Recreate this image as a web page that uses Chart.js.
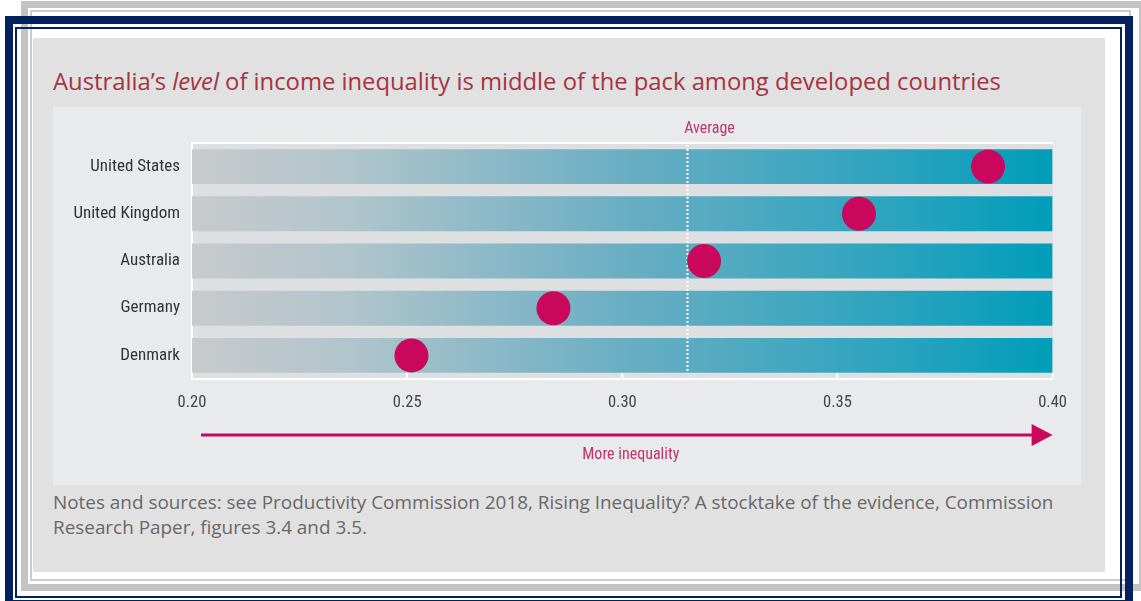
<!DOCTYPE html>
<html>
<head>
<meta charset="utf-8">
<script src="https://cdn.jsdelivr.net/npm/chart.js@4.4.0/dist/chart.umd.min.js"></script>
<style>
  body { margin: 0; background: #fff; width: 1141px; height: 601px; overflow: hidden; position: relative; font-family: "Open Sans", sans-serif; }
  .box { position: absolute; box-sizing: border-box; }
  #greyOuter { left: 21px; top: 1px; width: 1125px; height: 590px; border: 7px solid #c3c3c3; }
  #greyInner { left: 30px; top: 10px; width: 1101px; height: 571px; border: 2px solid #cbcbcb; }
  #navyOuter { left: 5px; top: 16px; width: 1128px; height: 592px; border: 8px solid #03215f; }
  #navyInner { left: 15px; top: 27px; width: 1107px; height: 571px; border: 2px solid #03215f; }
  #panel { left: 33px; top: 38px; width: 1072px; height: 534px; background: #e1e1e1; }
  #title { position: absolute; left: 53px; top: 65px; font-size: 23.8px; line-height: 32px; color: #a6333f; white-space: nowrap; }
  #chartBox { position: absolute; left: 53px; top: 107px; width: 1028px; height: 378px; background: #e9eaeb; }
  #notes { position: absolute; left: 53px; top: 490px; font-size: 18.9px; line-height: 25px; color: #686868; white-space: nowrap; }
</style>
</head>
<body>
<div class="box" id="greyOuter"></div>
<div class="box" id="greyInner"></div>
<div class="box" id="navyOuter"></div>
<div class="box" id="navyInner"></div>
<div class="box" id="panel"></div>
<div id="title">Australia’s <i>level</i> of income inequality is middle of the pack among developed countries</div>
<div id="chartBox"><canvas id="myChart"></canvas></div>
<div id="notes">Notes and sources: see Productivity Commission 2018, Rising Inequality? A stocktake of the evidence, Commission<br>Research Paper, figures 3.4 and 3.5.</div>
<script>
const countries = ['United States', 'United Kingdom', 'Australia', 'Germany', 'Denmark'];
const giniValues = [0.385, 0.355, 0.319, 0.284, 0.251];
const averageGini = 0.315;
const xTicks = [0.20, 0.25, 0.30, 0.35, 0.40];
const axisMin = 0.20;
const axisMax = 0.40;

const narrow = '"Roboto Condensed", "DejaVu Sans Condensed", sans-serif';
const magenta = '#c9075d';
const pinkText = '#c0336c';

function barGradient(ctx) {
  const area = ctx.chart.chartArea;
  if (!area) return '#7fb3c4';
  const g = ctx.chart.ctx.createLinearGradient(area.left, 0, area.right, 0);
  g.addColorStop(0, '#c8cacc');
  g.addColorStop(0.18, '#b1c5cc');
  g.addColorStop(0.5, '#6aaec3');
  g.addColorStop(0.8, '#2fa4bf');
  g.addColorStop(1, '#009dba');
  return g;
}

// plot background, average marker, bottom ticks and the arrow
const decorations = {
  id: 'decorations',
  beforeDatasetsDraw(chart) {
    const { ctx, chartArea: a } = chart;
    ctx.save();
    ctx.fillStyle = '#dedfe0';
    ctx.fillRect(a.left, a.top, a.right - a.left, a.bottom - a.top);
    ctx.strokeStyle = '#ffffff';
    ctx.lineWidth = 2;
    ctx.beginPath();
    ctx.moveTo(a.right, a.top);
    ctx.lineTo(a.left, a.top);
    ctx.lineTo(a.left, a.bottom);
    ctx.lineTo(a.right, a.bottom);
    ctx.stroke();
    const x = chart.scales.x;
    ctx.beginPath();
    xTicks.forEach(t => {
      const px = x.getPixelForValue(t);
      ctx.moveTo(px, a.bottom - 7);
      ctx.lineTo(px, a.bottom);
    });
    ctx.stroke();
    ctx.restore();
  },
  afterDatasetDraw(chart, args) {
    if (args.index !== 0) return;
    const { ctx, chartArea: a } = chart;
    const px = Math.round(chart.scales.x.getPixelForValue(averageGini)) + 0.5;
    ctx.save();
    ctx.strokeStyle = '#ffffff';
    ctx.lineWidth = 2;
    ctx.setLineDash([2, 2]);
    ctx.beginPath();
    ctx.moveTo(px, a.top + 2);
    ctx.lineTo(px, a.bottom - 7);
    ctx.stroke();
    ctx.setLineDash([]);
    ctx.fillStyle = pinkText;
    ctx.font = '16px ' + narrow;
    ctx.textAlign = 'center';
    ctx.textBaseline = 'middle';
    ctx.fillText('Average', px + 22, a.top - 14);
    ctx.restore();
  },
  afterDraw(chart) {
    const { ctx, chartArea: a } = chart;
    const x = chart.scales.x;
    const start = x.getPixelForValue(axisMin) + 9;
    const tip = x.getPixelForValue(axisMax);
    const y = a.bottom + 56;
    ctx.save();
    ctx.strokeStyle = magenta;
    ctx.lineWidth = 3;
    ctx.beginPath();
    ctx.moveTo(start, y);
    ctx.lineTo(tip - 18, y);
    ctx.stroke();
    ctx.fillStyle = magenta;
    ctx.beginPath();
    ctx.moveTo(tip, y);
    ctx.lineTo(tip - 21, y - 11);
    ctx.lineTo(tip - 21, y + 11);
    ctx.closePath();
    ctx.fill();
    ctx.fillStyle = pinkText;
    ctx.font = '16px ' + narrow;
    ctx.textAlign = 'center';
    ctx.textBaseline = 'middle';
    ctx.fillText('More inequality', (start + tip) / 2 + 4, y + 20);
    ctx.restore();
  }
};

const ctx = document.getElementById('myChart');
new Chart(ctx, {
  data: {
    labels: countries,
    datasets: [{
      type: 'bar',
      indexAxis: 'y',
      data: countries.map(() => [axisMin, axisMax]),
      backgroundColor: barGradient,
      borderWidth: 0,
      borderSkipped: false,
      categoryPercentage: 1,
      barPercentage: 0.74,
      order: 1
    }, {
      type: 'line',
      indexAxis: 'y',
      data: giniValues,
      showLine: false,
      pointRadius: 17,
      pointHoverRadius: 17,
      pointBackgroundColor: magenta,
      pointBorderWidth: 0,
      clip: false,
      order: 0
    }]
  },
  options: {
    indexAxis: 'y',
    responsive: true,
    maintainAspectRatio: false,
    animation: false,
    events: [],
    layout: { padding: { left: 0, right: 25, top: 36, bottom: 0 } },
    plugins: { legend: { display: false }, tooltip: { enabled: false } },
    scales: {
      x: {
        type: 'linear',
        min: axisMin,
        max: axisMax,
        afterBuildTicks: scale => { scale.ticks = xTicks.map(v => ({ value: v })); },
        afterFit: scale => { scale.height = 106; },
        grid: { display: false, drawTicks: false },
        border: { display: false },
        ticks: {
          padding: 14,
          color: '#444',
          font: { family: narrow, size: 16.5 },
          callback: v => v.toFixed(2)
        }
      },
      y: {
        type: 'category',
        afterFit: scale => { scale.width = 139; },
        grid: { display: false, drawTicks: false },
        border: { display: false },
        ticks: {
          padding: 12,
          color: '#333',
          font: { family: narrow, size: 17 }
        }
      }
    }
  },
  plugins: [decorations]
});
</script>
</body>
</html>
